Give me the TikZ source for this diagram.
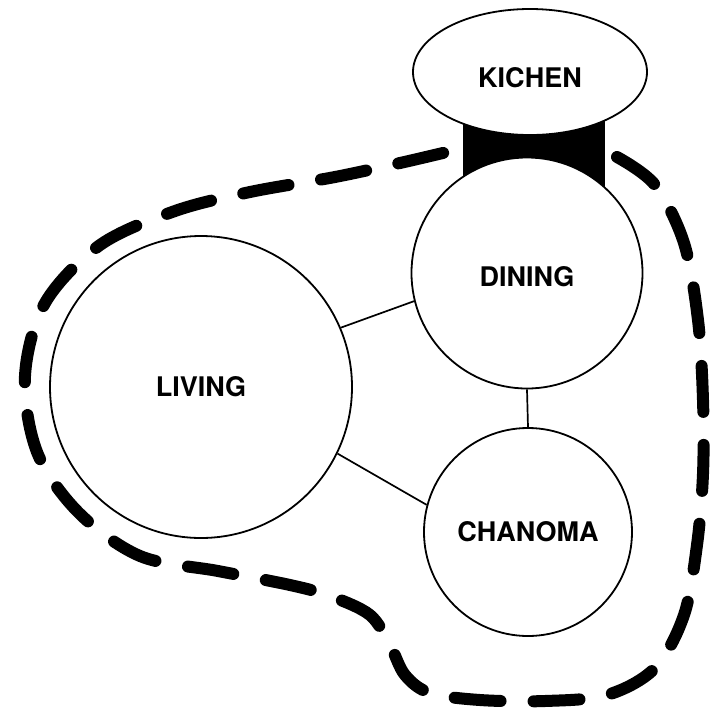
\documentclass[tikz,border=0pt]{standalone}
\usepackage{fontspec}
\setmainfont{TeX Gyre Heros}
\usetikzlibrary{shapes.geometric}
\begin{document}
\begin{tikzpicture}[x=1pt,y=-1pt,
  room/.style={draw=black,line width=1.8pt,fill=white,circle,inner sep=0pt,font=\bfseries\fontsize{27}{30}\selectfont},
  link/.style={draw=black,line width=1.7pt},
  boundary/.style={draw=black,line width=12pt,line cap=round,dash pattern=on 46pt off 33pt}]
\useasboundingbox (0,0) rectangle (715,716);
% black connector between kitchen and dining
\fill[black] (463,110) rectangle (605,200);
\node[room,ellipse,minimum width=234pt,minimum height=126pt,text height=31pt,text depth=0pt] (kitchen) at (530,72) {KICHEN};
\node[room,minimum size=231pt,text height=27pt,text depth=0pt] (dining) at (527,273) {DINING};
\node[room,minimum size=302pt] (living) at (201,387) {LIVING};
\node[room,minimum size=208pt] (chanoma) at (528,532) {CHANOMA};
\draw[link] (living.23) -- (dining.194);
\draw[link] (living.-26) -- (chanoma.165);
\draw[link] (dining.south) -- (chanoma.north);
\draw[boundary] plot[smooth,tension=0.55] coordinates {
 (617,157) (655,185) (684,243) (698,320) (703,400) (703,474) (697,545)
 (684,615) (655,668) (607,695) (545,701) (480,700) (430,693) (405,675)
 (390,645) (370,615) (330,596) (290,585) (218,571) (140,556) (78,512)
 (37,452) (25,376) (45,303) (100,245) (175,211) (250,192) (335,177)
 (400,163) (447,152)};
\end{tikzpicture}
\end{document}
